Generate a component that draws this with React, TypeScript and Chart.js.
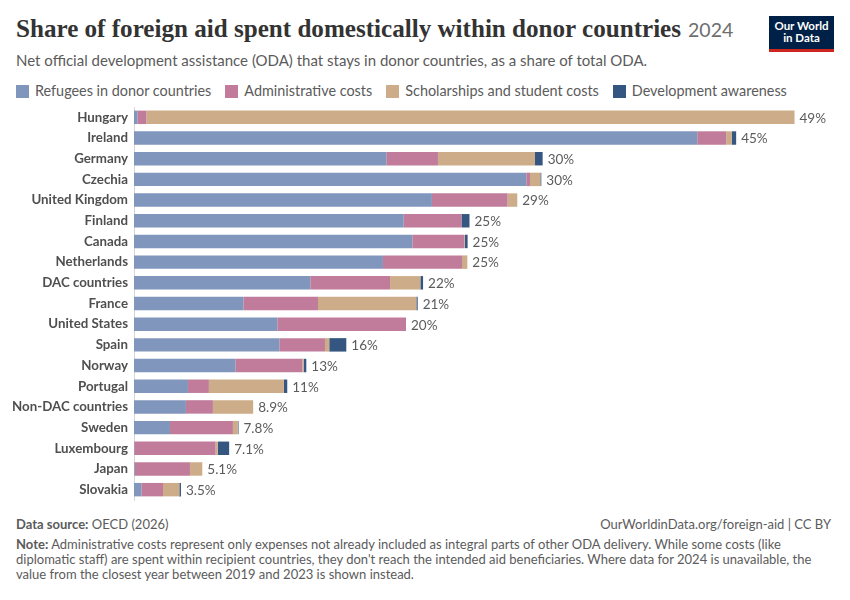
import { useEffect, useRef } from "react"
import { Chart, registerables } from "chart.js"

Chart.register(...registerables)

const countries = [
  "Hungary",
  "Ireland",
  "Germany",
  "Czechia",
  "United Kingdom",
  "Finland",
  "Canada",
  "Netherlands",
  "DAC countries",
  "France",
  "United States",
  "Spain",
  "Norway",
  "Portugal",
  "Non-DAC countries",
  "Sweden",
  "Luxembourg",
  "Japan",
  "Slovakia",
]

// shares of total ODA, in %
const refugees = [0.25, 41.97, 18.8, 29.23, 22.2, 20.1, 20.74, 18.55, 13.14, 8.15, 10.68, 10.83, 7.55, 4.02, 3.87, 2.68, 0.02, 0.05, 0.55]
const adminCosts = [0.67, 2.16, 3.85, 0.28, 5.64, 4.3, 3.87, 5.89, 5.94, 5.56, 9.59, 3.4, 4.99, 1.56, 2.01, 4.69, 6.06, 4.12, 1.61]
const scholarships = [48.3, 0.42, 7.23, 0.77, 0.72, 0, 0.05, 0.4, 2.26, 7.33, 0, 0.32, 0.1, 5.59, 3.0, 0.37, 0.17, 0.92, 1.22]
const awareness = [0, 0.32, 0.57, 0.07, 0, 0.6, 0.2, 0, 0.2, 0.1, 0, 1.27, 0.2, 0.25, 0, 0.05, 0.84, 0, 0.12]

const seriesNames = [
  "Refugees in donor countries",
  "Administrative costs",
  "Scholarships and student costs",
  "Development awareness",
]
const seriesColors = ["#8196bc", "#c07c9a", "#cdad89", "#345681"]

const FONT = "Lato, 'Noto Sans', sans-serif"
const GREY = "#5b5b5b"

function formatTotal(v: number) {
  return v >= 10 ? `${Math.round(v)}%` : `${v.toFixed(1)}%`
}

// draws the total share at the end of each stacked bar
const totalLabels = {
  id: "totalLabels",
  afterDatasetsDraw(chart: any) {
    const { ctx } = chart
    const xScale = chart.scales.x
    const meta = chart.getDatasetMeta(0)
    ctx.save()
    ctx.font = `13.5px ${FONT}`
    ctx.fillStyle = GREY
    ctx.textAlign = "left"
    ctx.textBaseline = "middle"
    countries.forEach((_, i) => {
      const total = refugees[i] + adminCosts[i] + scholarships[i] + awareness[i]
      const x = xScale.getPixelForValue(total)
      const y = meta.data[i].y
      ctx.fillText(formatTotal(total), x + 5, y + 1)
    })
    ctx.restore()
  },
}

function BarChart() {
  const chartRef = useRef<HTMLCanvasElement>(null)
  const chartInstance = useRef<Chart | null>(null)

  useEffect(() => {
    if (!chartRef.current) return
    if (chartInstance.current) chartInstance.current.destroy()

    const data = [refugees, adminCosts, scholarships, awareness]

    chartInstance.current = new Chart(chartRef.current, {
      type: "bar",
      data: {
        labels: countries,
        datasets: data.map((values, k) => ({
          label: seriesNames[k],
          data: values,
          backgroundColor: seriesColors[k],
          borderWidth: 0,
          categoryPercentage: 1,
          barPercentage: 0.65,
        })),
      },
      options: {
        indexAxis: "y",
        responsive: true,
        maintainAspectRatio: false,
        animation: false,
        layout: { padding: { top: 7, right: 45, bottom: 5, left: 0 } },
        plugins: {
          legend: { display: false },
          tooltip: { enabled: false },
        },
        scales: {
          x: {
            stacked: true,
            display: false,
            min: 0,
            max: 50,
          },
          y: {
            stacked: true,
            grid: { display: false, drawTicks: false },
            border: { display: true, color: "#d6d6d6", width: 1 },
            ticks: {
              color: "#4f4f4f",
              padding: 6,
              font: { family: FONT, size: 13.3, weight: "bold" },
            },
            afterFit: (scale: any) => {
              scale.width = 134
              // no extra room for half labels above/below the rows
              scale.paddingTop = 0
              scale.paddingBottom = 0
            },
          },
        },
      },
      plugins: [totalLabels],
    })

    return () => {
      if (chartInstance.current) {
        chartInstance.current.destroy()
        chartInstance.current = null
      }
    }
  }, [])

  return (
    <div style={{ position: "absolute", left: 0, top: 100, width: 850, height: 405 }}>
      <canvas ref={chartRef} />
    </div>
  )
}

export default function App() {
  return (
    <div
      style={{
        position: "absolute",
        left: 0,
        top: 0,
        width: 850,
        height: 600,
        background: "#fff",
        fontFamily: FONT,
        color: GREY,
        overflow: "hidden",
      }}
    >
      <div
        style={{
          position: "absolute",
          left: 16,
          top: 12,
          whiteSpace: "nowrap",
          fontFamily: "'Liberation Serif', 'DejaVu Serif', serif",
          fontWeight: 700,
          fontSize: 25.1,
          color: "#333",
          lineHeight: "34px",
        }}
      >
        Share of foreign aid spent domestically within donor countries
        <span style={{ fontFamily: FONT, fontWeight: 400, fontSize: 19.5, color: "#6e6e6e", marginLeft: 7 }}>
          2024
        </span>
      </div>

      <div
        style={{
          position: "absolute",
          left: 769,
          top: 16,
          width: 65,
          height: 36,
          background: "#002147",
          borderBottom: "3px solid #ce261e",
          boxSizing: "border-box",
          color: "#fff",
          fontSize: 11.5,
          fontWeight: 700,
          lineHeight: "12px",
          textAlign: "center",
          paddingTop: 4,
        }}
      >
        Our World
        <br />
        in Data
      </div>

      <div style={{ position: "absolute", left: 16, top: 50, fontSize: 15, lineHeight: "20px", color: GREY }}>
        Net official development assistance (ODA) that stays in donor countries, as a share of total ODA.
      </div>

      <div
        style={{
          position: "absolute",
          left: 16,
          top: 81,
          display: "flex",
          alignItems: "center",
          fontSize: 14.4,
          lineHeight: "20px",
          color: GREY,
          whiteSpace: "nowrap",
        }}
      >
        {seriesNames.map((name, k) => (
          <div key={name} style={{ display: "flex", alignItems: "center", marginRight: 14 }}>
            <span
              style={{
                display: "inline-block",
                width: 13,
                height: 13,
                background: seriesColors[k],
                marginRight: 6,
              }}
            />
            {name}
          </div>
        ))}
      </div>

      <BarChart />

      <div style={{ position: "absolute", left: 16, top: 515, fontSize: 13, lineHeight: "18px", color: GREY }}>
        <b style={{ fontWeight: 700 }}>Data source:</b> OECD (2026)
      </div>
      <div style={{ position: "absolute", right: 19, top: 515, fontSize: 13, lineHeight: "18px", color: GREY }}>
        OurWorldinData.org/foreign-aid | CC BY
      </div>
      <div
        style={{
          position: "absolute",
          left: 16,
          top: 537,
          fontSize: 13,
          lineHeight: "15px",
          color: GREY,
          whiteSpace: "nowrap",
        }}
      >
        <b style={{ fontWeight: 700 }}>Note:</b> Administrative costs represent only expenses not already included as
        integral parts of other ODA delivery. While some costs (like
        <br />
        diplomatic staff) are spent within recipient countries, they don't reach the intended aid beneficiaries. Where
        data for 2024 is unavailable, the
        <br />
        value from the closest year between 2019 and 2023 is shown instead.
      </div>
    </div>
  )
}
